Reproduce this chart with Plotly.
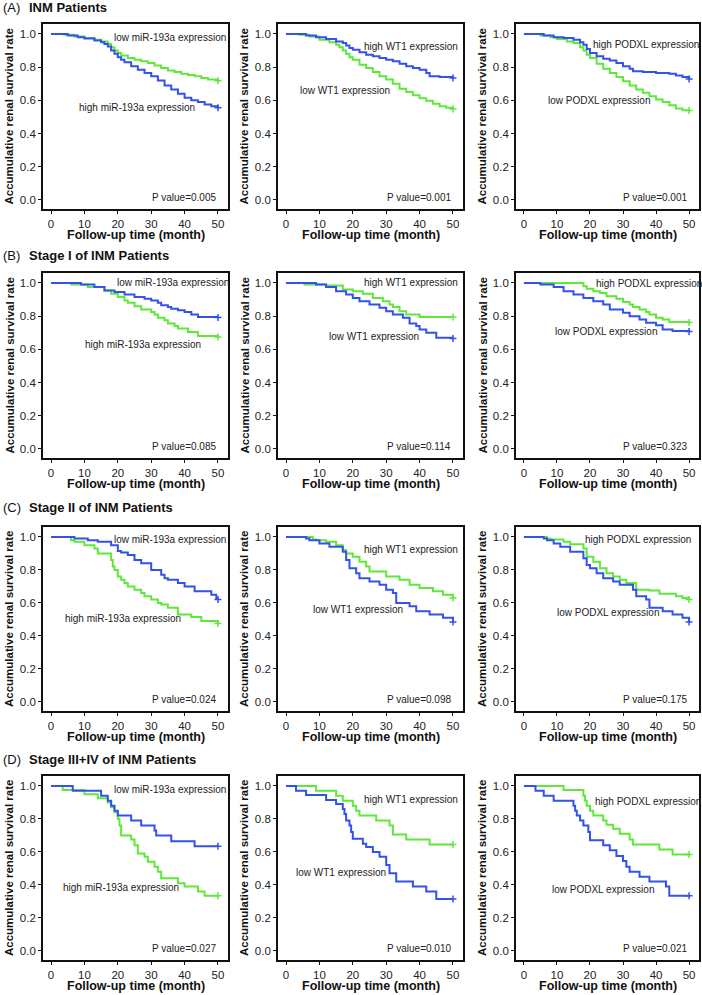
import plotly.graph_objects as go

# ---- survival curves (time in months, survival rate) ----
# (A) all INM patients
A1_GREEN_T = [0, 4, 7, 10, 13, 15, 17, 18, 19, 20, 21, 23, 25, 27, 29, 31, 33, 35, 37, 39, 41, 43, 45, 47, 50]
A1_GREEN_S = [1.0, 0.995, 0.985, 0.975, 0.965, 0.955, 0.94, 0.92, 0.90, 0.885, 0.87, 0.855, 0.845, 0.835, 0.825,
              0.81, 0.795, 0.78, 0.77, 0.76, 0.752, 0.745, 0.735, 0.725, 0.718]
A1_BLUE_T = [0, 5, 8, 10, 13, 15, 16, 17, 18, 19, 20, 21, 22, 24, 26, 28, 30, 32, 34, 36, 38, 40, 42, 44, 46, 48, 50]
A1_BLUE_S = [1.0, 0.99, 0.98, 0.972, 0.96, 0.95, 0.94, 0.925, 0.90, 0.88, 0.86, 0.845, 0.83, 0.805, 0.785, 0.765,
             0.745, 0.72, 0.69, 0.665, 0.64, 0.615, 0.60, 0.59, 0.575, 0.565, 0.555]

A2_BLUE_T = [0, 6, 9, 12, 15, 17, 18, 19, 20, 22, 24, 26, 28, 30, 32, 34, 36, 38, 40, 42, 43, 46, 50]
A2_BLUE_S = [1.0, 0.99, 0.98, 0.97, 0.955, 0.945, 0.93, 0.915, 0.905, 0.89, 0.875, 0.865, 0.855, 0.845, 0.835,
             0.82, 0.805, 0.795, 0.785, 0.765, 0.745, 0.74, 0.735]
A2_GREEN_T = [0, 4, 7, 10, 13, 15, 16, 17, 18, 19, 20, 22, 24, 26, 28, 30, 32, 34, 36, 38, 40, 42, 44, 46, 48, 50]
A2_GREEN_S = [1.0, 0.995, 0.985, 0.965, 0.95, 0.935, 0.92, 0.90, 0.88, 0.86, 0.845, 0.815, 0.795, 0.77, 0.745,
              0.725, 0.70, 0.67, 0.65, 0.63, 0.612, 0.598, 0.58, 0.565, 0.555, 0.548]

A3_BLUE_T = [0, 6, 9, 12, 15, 17, 18, 19, 20, 22, 24, 26, 28, 30, 32, 33, 36, 40, 44, 46, 48, 50]
A3_BLUE_S = [1.0, 0.99, 0.98, 0.975, 0.965, 0.95, 0.935, 0.91, 0.885, 0.865, 0.85, 0.84, 0.825, 0.805, 0.79,
             0.775, 0.77, 0.765, 0.76, 0.75, 0.74, 0.728]
A3_GREEN_T = [0, 5, 8, 10, 13, 15, 17, 18, 19, 20, 22, 24, 26, 28, 30, 32, 34, 36, 38, 40, 42, 44, 46, 48, 50]
A3_GREEN_S = [1.0, 0.99, 0.98, 0.97, 0.955, 0.945, 0.92, 0.90, 0.875, 0.855, 0.82, 0.79, 0.765, 0.74, 0.715,
              0.69, 0.665, 0.645, 0.625, 0.605, 0.59, 0.57, 0.55, 0.54, 0.538]

# (B) stage I
B1_BLUE_T = [0, 9, 13, 16, 19, 22, 25, 28, 30, 32, 33, 35, 36, 38, 40, 42, 44, 50]
B1_BLUE_S = [1.0, 0.99, 0.975, 0.955, 0.945, 0.93, 0.915, 0.905, 0.895, 0.88, 0.865, 0.855, 0.845, 0.835, 0.825,
             0.81, 0.795, 0.792]
B1_GREEN_T = [0, 6, 11, 16, 18, 20, 22, 23, 25, 27, 30, 31, 32, 34, 35, 37, 38, 41, 44, 50]
B1_GREEN_S = [1.0, 0.99, 0.975, 0.955, 0.935, 0.915, 0.895, 0.88, 0.86, 0.84, 0.825, 0.81, 0.79, 0.775, 0.755,
              0.74, 0.725, 0.705, 0.68, 0.675]

B2_BLUE_T = [0, 9, 12, 15, 18, 20, 22, 25, 28, 30, 32, 35, 37, 39, 40, 42, 45, 50]
B2_BLUE_S = [1.0, 0.99, 0.975, 0.95, 0.93, 0.91, 0.89, 0.87, 0.85, 0.83, 0.81, 0.79, 0.755, 0.74, 0.72, 0.70,
             0.67, 0.665]
B2_GREEN_T = [0, 5.5, 12, 17, 20, 23, 26, 29, 31, 32, 34, 36, 40, 50]
B2_GREEN_S = [1.0, 0.99, 0.985, 0.96, 0.95, 0.935, 0.91, 0.89, 0.87, 0.855, 0.83, 0.81, 0.795, 0.795]

B3_GREEN_T = [0, 18, 19, 21, 23, 25, 28, 30, 32, 33, 35, 37, 38, 40, 42, 44, 50]
B3_GREEN_S = [1.0, 0.98, 0.965, 0.95, 0.94, 0.92, 0.905, 0.885, 0.87, 0.855, 0.84, 0.825, 0.81, 0.79, 0.78,
              0.765, 0.762]
B3_BLUE_T = [0, 5, 9, 12, 15, 18, 21, 24, 26, 30, 32, 35, 37, 40, 42, 45, 50]
B3_BLUE_S = [1.0, 0.99, 0.975, 0.95, 0.93, 0.91, 0.89, 0.87, 0.84, 0.82, 0.80, 0.78, 0.76, 0.745, 0.72, 0.71, 0.708]

# (C) stage II
C1_BLUE_T = [0, 7, 11, 14, 18, 20, 21, 23, 25, 27, 30, 33, 34, 35, 38, 40, 43, 48, 49.5, 50]
C1_BLUE_S = [1.0, 0.99, 0.98, 0.97, 0.95, 0.915, 0.905, 0.89, 0.86, 0.84, 0.80, 0.77, 0.75, 0.74, 0.72, 0.70,
             0.67, 0.65, 0.625, 0.62]
C1_GREEN_T = [0, 6, 7, 10, 13, 14, 18, 18.5, 19, 20, 21, 22, 23, 25, 27, 28, 30, 32, 33, 35, 38, 42, 45, 50]
C1_GREEN_S = [1.0, 0.98, 0.97, 0.95, 0.93, 0.90, 0.86, 0.82, 0.80, 0.76, 0.74, 0.72, 0.70, 0.68, 0.66, 0.64,
              0.62, 0.60, 0.59, 0.57, 0.53, 0.515, 0.49, 0.475]

C2_GREEN_T = [0, 8, 9, 12, 15, 17, 18, 20, 22, 24, 25, 30, 34, 37, 40, 44, 47, 50]
C2_GREEN_S = [1.0, 0.985, 0.98, 0.97, 0.95, 0.92, 0.90, 0.88, 0.85, 0.82, 0.79, 0.76, 0.74, 0.71, 0.69, 0.67,
              0.65, 0.63]
C2_BLUE_T = [0, 6, 7, 10, 13, 17, 18, 19, 21, 22, 25, 28, 30, 32, 33, 37, 39, 43, 47, 50]
C2_BLUE_S = [1.0, 0.99, 0.98, 0.96, 0.94, 0.91, 0.86, 0.81, 0.78, 0.75, 0.73, 0.71, 0.68, 0.66, 0.60, 0.58,
             0.55, 0.53, 0.51, 0.485]

C3_GREEN_T = [0, 7, 8, 12, 14, 18, 19, 21, 23, 25, 27, 29, 31, 34, 38, 41, 46, 48, 50]
C3_GREEN_S = [1.0, 0.99, 0.985, 0.97, 0.955, 0.93, 0.88, 0.85, 0.81, 0.78, 0.76, 0.74, 0.72, 0.68, 0.675, 0.655,
              0.64, 0.63, 0.62]
C3_BLUE_T = [0, 6, 7, 9, 11, 14, 18, 19, 20, 22, 24, 27, 29, 33, 34, 37, 38, 42, 45, 48, 50]
C3_BLUE_S = [1.0, 0.99, 0.98, 0.96, 0.94, 0.91, 0.87, 0.83, 0.81, 0.78, 0.75, 0.73, 0.71, 0.68, 0.64, 0.62,
             0.57, 0.55, 0.53, 0.51, 0.485]

# (D) stage III+IV
D1_BLUE_T = [0, 6.5, 15, 17, 18, 19, 20, 24, 27, 31, 31.5, 36, 43, 50]
D1_BLUE_S = [1.0, 0.97, 0.94, 0.91, 0.88, 0.85, 0.82, 0.79, 0.76, 0.73, 0.70, 0.665, 0.635, 0.635]
D1_GREEN_T = [0, 3.5, 10, 14, 17, 18, 19, 20, 20.5, 21, 24, 25, 26, 28, 29, 31, 32, 33, 38, 40, 44, 46, 50]
D1_GREEN_S = [1.0, 0.975, 0.95, 0.925, 0.90, 0.87, 0.84, 0.80, 0.76, 0.70, 0.675, 0.64, 0.59, 0.57, 0.54, 0.51,
              0.48, 0.44, 0.41, 0.39, 0.36, 0.335, 0.335]

D2_GREEN_T = [0, 9, 15, 17, 20, 21, 22, 27, 31, 32, 36, 43, 50]
D2_GREEN_S = [1.0, 0.97, 0.94, 0.91, 0.88, 0.85, 0.82, 0.79, 0.76, 0.705, 0.675, 0.645, 0.645]
D2_BLUE_T = [0, 3, 6, 12, 15, 17, 17.5, 18, 19, 19.5, 20, 23, 24, 26, 28, 30, 31, 33, 38, 42, 45, 50]
D2_BLUE_S = [1.0, 0.97, 0.945, 0.915, 0.89, 0.86, 0.83, 0.79, 0.76, 0.72, 0.68, 0.65, 0.63, 0.60, 0.57, 0.52,
             0.47, 0.42, 0.39, 0.36, 0.315, 0.315]

D3_GREEN_T = [0, 12, 18, 18.5, 19, 20, 21, 24, 25, 27, 29, 32, 33, 41, 45, 50]
D3_GREEN_S = [1.0, 0.975, 0.94, 0.91, 0.88, 0.85, 0.82, 0.79, 0.765, 0.74, 0.71, 0.675, 0.645, 0.615, 0.585, 0.585]
D3_BLUE_T = [0, 3.5, 6, 9, 15, 15.5, 16, 17, 18, 19.5, 20, 24, 26, 28, 30, 31, 32, 35, 38, 43, 44, 50]
D3_BLUE_S = [1.0, 0.97, 0.94, 0.91, 0.88, 0.85, 0.82, 0.79, 0.76, 0.72, 0.67, 0.64, 0.61, 0.575, 0.545, 0.51,
             0.48, 0.45, 0.42, 0.39, 0.335, 0.335]

ROW_TITLES = ['INM Patients', 'Stage I of INM Patients', 'Stage II of INM Patients', 'Stage III+IV of INM Patients']
ROW_TAGS = ['(A)', '(B)', '(C)', '(D)']
P_VALUES = ['0.005', '0.001', '0.001',
            '0.085', '0.114', '0.323',
            '0.024', '0.098', '0.175',
            '0.027', '0.010', '0.021']
X_TICKS = [0, 10, 20, 30, 40, 50]
Y_TICKS = [0.0, 0.2, 0.4, 0.6, 0.8, 1.0]

GREEN = '#5fe83a'
BLUE = '#3352e8'
FONT = 'Liberation Sans, Arial, sans-serif'
W, H = 702, 995

# panel: (green t, green s, blue t, blue s, [(label, x, y), ...])
panels = [
    (A1_GREEN_T, A1_GREEN_S, A1_BLUE_T, A1_BLUE_S,
     [('low miR-193a expression', 18.3, 0.98), ('high miR-193a expression', 7.7, 0.555)]),
    (A2_GREEN_T, A2_GREEN_S, A2_BLUE_T, A2_BLUE_S,
     [('high WT1 expression', 22.9, 0.925), ('low WT1 expression', 3.5, 0.658)]),
    (A3_GREEN_T, A3_GREEN_S, A3_BLUE_T, A3_BLUE_S,
     [('high PODXL expression', 20.4, 0.938), ('low PODXL expression', 6.6, 0.60)]),
    (B1_GREEN_T, B1_GREEN_S, B1_BLUE_T, B1_BLUE_S,
     [('low miR-193a expression', 19.1, 1.0), ('high miR-193a expression', 9.5, 0.63)]),
    (B2_GREEN_T, B2_GREEN_S, B2_BLUE_T, B2_BLUE_S,
     [('high WT1 expression', 22.9, 1.0), ('low WT1 expression', 12.4, 0.676)]),
    (B3_GREEN_T, B3_GREEN_S, B3_BLUE_T, B3_BLUE_S,
     [('high PODXL expression', 21.2, 0.996), ('low PODXL expression', 8.7, 0.71)]),
    (C1_GREEN_T, C1_GREEN_S, C1_BLUE_T, C1_BLUE_S,
     [('low miR-193a expression', 18.4, 0.982), ('high miR-193a expression', 3.5, 0.506)]),
    (C2_GREEN_T, C2_GREEN_S, C2_BLUE_T, C2_BLUE_S,
     [('high WT1 expression', 22.9, 0.922), ('low WT1 expression', 7.5, 0.562)]),
    (C3_GREEN_T, C3_GREEN_S, C3_BLUE_T, C3_BLUE_S,
     [('high PODXL expression', 18.0, 0.986), ('low PODXL expression', 9.5, 0.54)]),
    (D1_GREEN_T, D1_GREEN_S, D1_BLUE_T, D1_BLUE_S,
     [('low miR-193a expression', 18.3, 0.978), ('high miR-193a expression', 2.9, 0.385)]),
    (D2_GREEN_T, D2_GREEN_S, D2_BLUE_T, D2_BLUE_S,
     [('high WT1 expression', 22.9, 0.92), ('low WT1 expression', 2.5, 0.476)]),
    (D3_GREEN_T, D3_GREEN_S, D3_BLUE_T, D3_BLUE_S,
     [('high PODXL expression', 20.9, 0.907), ('low PODXL expression', 7.8, 0.375)]),
]

# plot box edges in pixels
col_px = [(43, 228), (278, 463), (516, 699)]
row_px = [(24, 209), (273, 458), (527, 711), (776, 960)]
row_title_px = [8, 255, 507, 759]


def px_x(p):
    return p / W


def px_y(p):
    return 1 - p / H


fig = go.Figure()
layout = {}
annotations = []

for i, (gt, gs, bt, bs, labels) in enumerate(panels):
    r, c = divmod(i, 3)
    n = '' if i == 0 else str(i + 1)
    xa, ya = 'x' + n, 'y' + n

    for t, s, color in [(gt, gs, GREEN), (bt, bs, BLUE)]:
        fig.add_trace(go.Scatter(x=t, y=s, mode='lines', line=dict(color=color, width=2, shape='hv'),
                                 xaxis=xa, yaxis=ya, showlegend=False, hoverinfo='skip'))
        # censor mark at the end of follow-up
        fig.add_trace(go.Scatter(x=t[-1:], y=s[-1:], mode='markers',
                                 marker=dict(symbol='cross-thin', size=5, line=dict(color=color, width=1.5)),
                                 xaxis=xa, yaxis=ya, showlegend=False, hoverinfo='skip'))

    x0, x1 = col_px[c]
    y0, y1 = row_px[r]
    axis_common = dict(showline=True, linewidth=1.8, linecolor='#111', mirror=True, showgrid=False,
                       zeroline=False, ticks='outside', ticklen=3, tickwidth=1, tickcolor='#111',
                       tickfont=dict(family=FONT, size=11.5, color='#222'), fixedrange=True)
    layout['xaxis' + n] = dict(axis_common, domain=[px_x(x0), px_x(x1)], range=[-2.4, 53],
                               tickvals=X_TICKS, anchor=ya)
    layout['yaxis' + n] = dict(axis_common, domain=[px_y(y1), px_y(y0)], range=[-0.055, 1.06],
                               tickvals=Y_TICKS, tickformat='.1f', anchor=xa)

    for text, lx, ly in labels:
        annotations.append(dict(x=lx, y=ly, xref=xa, yref=ya, text=text, showarrow=False, xanchor='left',
                                yanchor='middle', font=dict(family=FONT, size=10, color='#222')))
    annotations.append(dict(x=50, y=0.015, xref=xa, yref=ya, text='P value=' + P_VALUES[i], showarrow=False,
                            xanchor='right', yanchor='middle', font=dict(family=FONT, size=10, color='#222')))

    # axis titles
    annotations.append(dict(x=px_x(x0 - 34), y=px_y((y0 + y1) / 2), xref='paper', yref='paper',
                            text='<b>Accumulative renal survival rate</b>', textangle=-90, showarrow=False,
                            xanchor='center', yanchor='middle', font=dict(family=FONT, size=11.5, color='#111')))
    annotations.append(dict(x=px_x((x0 + x1) / 2), y=px_y(y1 + 26), xref='paper', yref='paper',
                            text='<b>Follow-up time (month)</b>', showarrow=False,
                            xanchor='center', yanchor='middle', font=dict(family=FONT, size=12.5, color='#111')))

for tag, title, py in zip(ROW_TAGS, ROW_TITLES, row_title_px):
    annotations.append(dict(x=px_x(1), y=px_y(py), xref='paper', yref='paper', text=tag, showarrow=False,
                            xanchor='left', yanchor='middle', font=dict(family=FONT, size=13, color='#111')))
    annotations.append(dict(x=px_x(27), y=px_y(py), xref='paper', yref='paper', text='<b>' + title + '</b>',
                            showarrow=False, xanchor='left', yanchor='middle',
                            font=dict(family=FONT, size=13, color='#111')))

fig.update_layout(width=W, height=H, margin=dict(l=0, r=0, t=0, b=0), plot_bgcolor='white',
                  paper_bgcolor='white', annotations=annotations, **layout)

# drop the browser's default page margin so the figure sits at the top-left corner
fig.write_html("out.html", config={'displayModeBar': False},
               post_script="document.body.style.margin='0';")
